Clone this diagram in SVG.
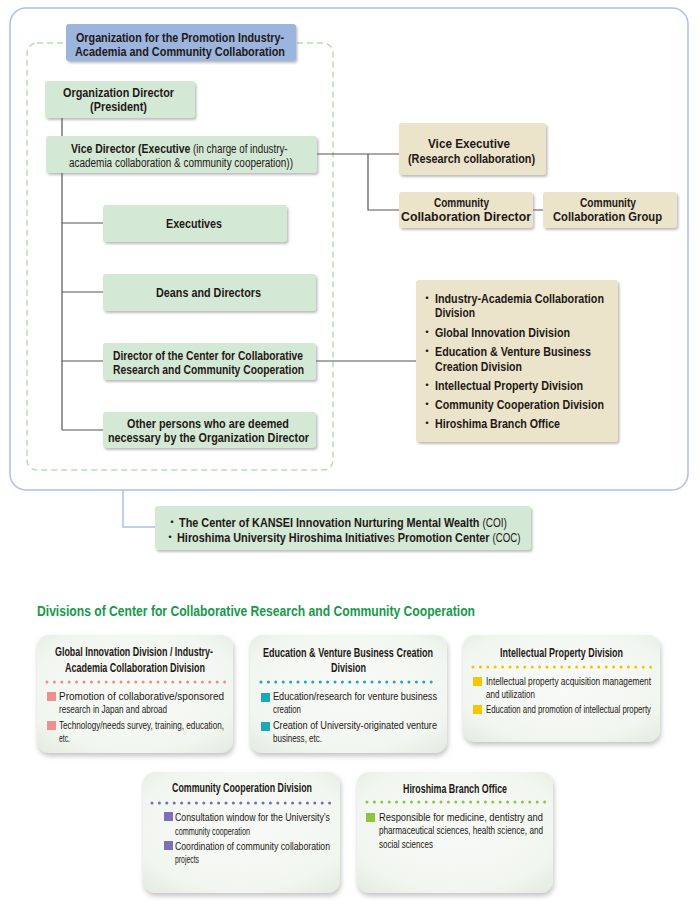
<svg xmlns="http://www.w3.org/2000/svg" width="700" height="906" viewBox="0 0 700 906">
<defs>
<style>
.t{font-family:"Liberation Sans Narrow","Liberation Sans","Noto Sans CJK JP",sans-serif;fill:#231815}
.bu{font-family:"Noto Sans CJK JP","Liberation Sans",sans-serif;fill:#231815;font-size:12px}
.h{font-size:13.5px;font-weight:bold}
.h2{font-size:12.8px;font-weight:bold}
.s{font-size:12px}
.ct{font-size:12px;font-weight:bold}
.ci{font-size:11px}
.ci3{font-size:10px}
.green{fill:#d3e8d5;filter:url(#sh)}
.beige{fill:#ebe3ca;filter:url(#sh)}
.blue{fill:#9bb5de;filter:url(#sh)}
.card{fill:url(#cg);filter:url(#sh2)}
.ln{stroke:#555;stroke-width:1.2;fill:none}
.dot{stroke-width:3;stroke-linecap:round;stroke-dasharray:0 7.4;fill:none}
</style>
<filter id="sh" x="-10%" y="-20%" width="125%" height="150%">
<feDropShadow dx="1.5" dy="2" stdDeviation="1.2" flood-color="#6f6f6f" flood-opacity="0.45"/>
</filter>
<filter id="sh2" x="-10%" y="-10%" width="125%" height="130%">
<feDropShadow dx="1" dy="3" stdDeviation="2.5" flood-color="#7a7a7a" flood-opacity="0.45"/>
</filter>
<radialGradient id="cg" cx="0.5" cy="0.45" r="0.75">
<stop offset="0" stop-color="#f8faf7"/>
<stop offset="0.7" stop-color="#f2f6f0"/>
<stop offset="1" stop-color="#e2eadf"/>
</radialGradient>
</defs>

<!-- outer frame -->
<rect x="10" y="8" width="678" height="482" rx="16" fill="#fff" stroke="#a9c1e8" stroke-width="1.5"/>
<rect x="27" y="43" width="306" height="427" rx="10" fill="none" stroke="#b7dcba" stroke-width="1.5" stroke-dasharray="6 4"/>

<g id="connectors">
<path class="ln" d="M62 118 V430 M62 223 H103 M62 292 H103 M62 361 H103 M62 430 H103"/>
<path class="ln" d="M317 154 H399 M368 154 V210 H399 M533 210 H543"/>
<path class="ln" d="M316 361 H416"/>
<path d="M123 490 V527 H155" fill="none" stroke="#a9c1e8" stroke-width="1.5"/>
</g>

<g id="org-header">
<rect class="blue" x="66" y="24" width="230" height="37" rx="3"/>
<text class="t h2" x="76" y="41.5" textLength="208" lengthAdjust="spacingAndGlyphs">Organization for the Promotion Industry-</text>
<text class="t h2" x="75" y="55.5" textLength="210" lengthAdjust="spacingAndGlyphs">Academia and Community Collaboration</text>
</g>

<g id="org-director">
<rect class="green" x="45" y="81" width="150" height="37" rx="3"/>
<text class="t h" x="63" y="97" textLength="111" lengthAdjust="spacingAndGlyphs">Organization Director</text>
<text class="t h" x="90" y="111" textLength="57" lengthAdjust="spacingAndGlyphs">(President)</text>
</g>

<g id="vice-director">
<rect class="green" x="46" y="136" width="271" height="37" rx="3"/>
<text class="t" transform="translate(71 152.5) scale(0.816 1)" x="0" y="0"><tspan class="h2">Vice Director (Executive</tspan><tspan class="s"> (in charge of industry-</tspan></text>
<text class="t s" x="69" y="166.5" textLength="224" lengthAdjust="spacingAndGlyphs">academia collaboration &amp; community cooperation))</text>
</g>

<g id="executives">
<rect class="green" x="103" y="205" width="184" height="37" rx="3"/>
<text class="t h" x="166" y="228" textLength="56" lengthAdjust="spacingAndGlyphs">Executives</text>
</g>

<g id="deans">
<rect class="green" x="103" y="274" width="213" height="37" rx="3"/>
<text class="t h" x="156" y="297" textLength="105" lengthAdjust="spacingAndGlyphs">Deans and Directors</text>
</g>

<g id="center-director">
<rect class="green" x="103" y="343" width="213" height="37" rx="3"/>
<text class="t h2" x="113" y="359.5" textLength="190" lengthAdjust="spacingAndGlyphs">Director of the Center for Collaborative</text>
<text class="t h2" x="113" y="373.5" textLength="191" lengthAdjust="spacingAndGlyphs">Research and Community Cooperation</text>
</g>

<g id="other-persons">
<rect class="green" x="103" y="412" width="213" height="36" rx="3"/>
<text class="t h2" x="127" y="428" textLength="162" lengthAdjust="spacingAndGlyphs">Other persons who are deemed</text>
<text class="t h2" x="108" y="442" textLength="201" lengthAdjust="spacingAndGlyphs">necessary by the Organization Director</text>
</g>

<g id="vice-executive">
<rect class="beige" x="399" y="123" width="147" height="52" rx="3"/>
<text class="t h" x="428" y="148" textLength="82" lengthAdjust="spacingAndGlyphs">Vice Executive</text>
<text class="t h" x="408" y="163" textLength="127" lengthAdjust="spacingAndGlyphs">(Research collaboration)</text>
</g>

<g id="community-collab-director">
<rect class="beige" x="399" y="192" width="134" height="36" rx="3"/>
<text class="t h" x="434" y="207" textLength="55" lengthAdjust="spacingAndGlyphs">Community</text>
<text class="t h" x="401" y="221" textLength="130" lengthAdjust="spacingAndGlyphs">Collaboration Director</text>
</g>

<g id="community-collab-group">
<rect class="beige" x="543" y="192" width="134" height="36" rx="3"/>
<text class="t h" x="580" y="207" textLength="56" lengthAdjust="spacingAndGlyphs">Community</text>
<text class="t h" x="553" y="221" textLength="109" lengthAdjust="spacingAndGlyphs">Collaboration Group</text>
</g>

<g id="divisions-list">
<rect class="beige" x="416" y="280" width="202" height="162" rx="3"/>
<text class="bu" x="421" y="303">・</text>
<text class="t h" x="435" y="303" textLength="169" lengthAdjust="spacingAndGlyphs">Industry-Academia Collaboration</text>
<text class="t h" x="435" y="317" textLength="40" lengthAdjust="spacingAndGlyphs">Division</text>
<text class="bu" x="421" y="337">・</text>
<text class="t h" x="435" y="337" textLength="135" lengthAdjust="spacingAndGlyphs">Global Innovation Division</text>
<text class="bu" x="421" y="356">・</text>
<text class="t h" x="435" y="356" textLength="156" lengthAdjust="spacingAndGlyphs">Education &amp; Venture Business</text>
<text class="t h" x="435" y="371" textLength="87" lengthAdjust="spacingAndGlyphs">Creation Division</text>
<text class="bu" x="421" y="390">・</text>
<text class="t h" x="435" y="390" textLength="148" lengthAdjust="spacingAndGlyphs">Intellectual Property Division</text>
<text class="bu" x="421" y="409">・</text>
<text class="t h" x="435" y="409" textLength="169" lengthAdjust="spacingAndGlyphs">Community Cooperation Division</text>
<text class="bu" x="421" y="428">・</text>
<text class="t h" x="435" y="428" textLength="125" lengthAdjust="spacingAndGlyphs">Hiroshima Branch Office</text>
</g>

<g id="coi-coc">
<rect class="green" x="155" y="506" width="376" height="44" rx="3"/>
<text class="bu" x="166" y="527">・</text>
<text class="t" transform="translate(179 527) scale(0.837 1)" x="0" y="0" style="font-size:13px"><tspan font-weight="bold">The Center of KANSEI Innovation Nurturing Mental Wealth</tspan> <tspan style="font-size:12px">(COI)</tspan></text>
<text class="bu" x="164" y="542">・</text>
<text class="t" transform="translate(177 542) scale(0.807 1)" x="0" y="0" style="font-size:13.5px"><tspan font-weight="bold">Hiroshima University Hiroshima Initiative</tspan>s <tspan font-weight="bold">Promotion Center</tspan> <tspan style="font-size:12px">(COC)</tspan></text>
</g>

<text class="t" x="37" y="616" textLength="438" lengthAdjust="spacingAndGlyphs" style="font-size:15.5px;font-weight:bold;fill:#16994a">Divisions of Center for Collaborative Research and Community Cooperation</text>

<g id="card-global-innovation">
<rect class="card" x="37" y="635" width="196" height="118" rx="12"/>
<text class="t ct" x="55" y="656" textLength="158" lengthAdjust="spacingAndGlyphs">Global Innovation Division / Industry-</text>
<text class="t ct" x="65" y="672" textLength="140" lengthAdjust="spacingAndGlyphs">Academia Collaboration Division</text>
<line class="dot" x1="47" y1="682" x2="226" y2="682" stroke="#f08c8c"/>
<rect x="47" y="692" width="9" height="9" fill="#f08f8f"/>
<text class="t ci" x="59" y="700" textLength="165" lengthAdjust="spacingAndGlyphs">Promotion of collaborative/sponsored</text>
<text class="t ci" x="59" y="713" textLength="108" lengthAdjust="spacingAndGlyphs">research in Japan and abroad</text>
<rect x="47" y="721" width="9" height="9" fill="#f08f8f"/>
<text class="t ci" x="59" y="729" textLength="165" lengthAdjust="spacingAndGlyphs">Technology/needs survey, training, education,</text>
<text class="t ci" x="59" y="742" textLength="11" lengthAdjust="spacingAndGlyphs">etc.</text>
</g>

<g id="card-education-venture">
<rect class="card" x="250" y="635" width="197" height="118" rx="12"/>
<text class="t ct" x="263" y="657" textLength="170" lengthAdjust="spacingAndGlyphs">Education &amp; Venture Business Creation</text>
<text class="t ct" x="331" y="672" textLength="35" lengthAdjust="spacingAndGlyphs">Division</text>
<line class="dot" x1="261" y1="682" x2="437" y2="682" stroke="#19a9ba"/>
<rect x="261" y="693" width="9" height="9" fill="#19a9ba"/>
<text class="t ci" x="273" y="700" textLength="164" lengthAdjust="spacingAndGlyphs">Education/research for venture business</text>
<text class="t ci" x="273" y="713" textLength="28" lengthAdjust="spacingAndGlyphs">creation</text>
<rect x="261" y="722" width="9" height="9" fill="#19a9ba"/>
<text class="t ci" x="273" y="729" textLength="164" lengthAdjust="spacingAndGlyphs">Creation of University-originated venture</text>
<text class="t ci" x="273" y="742" textLength="49" lengthAdjust="spacingAndGlyphs">business, etc.</text>
</g>

<g id="card-intellectual-property">
<rect class="card" x="463" y="635" width="197" height="107" rx="12"/>
<text class="t ct" x="500" y="657" textLength="123" lengthAdjust="spacingAndGlyphs">Intellectual Property Division</text>
<line class="dot" x1="473" y1="667" x2="651" y2="667" stroke="#f5c300"/>
<rect x="473" y="677" width="9" height="9" fill="#f7c600"/>
<text class="t ci3" x="486" y="685" textLength="165" lengthAdjust="spacingAndGlyphs">Intellectual property acquisition management</text>
<text class="t ci3" x="486" y="698" textLength="49" lengthAdjust="spacingAndGlyphs">and utilization</text>
<rect x="473" y="705" width="9" height="9" fill="#f7c600"/>
<text class="t ci3" x="486" y="713" textLength="165" lengthAdjust="spacingAndGlyphs">Education and promotion of intellectual property</text>
</g>

<g id="card-community-cooperation">
<rect class="card" x="143" y="772" width="197" height="121" rx="12"/>
<text class="t ct" x="172" y="792" textLength="140" lengthAdjust="spacingAndGlyphs">Community Cooperation Division</text>
<line class="dot" x1="152" y1="803" x2="332" y2="803" stroke="#7a6cb6"/>
<rect x="164" y="812" width="9" height="9" fill="#7d6fb8"/>
<text class="t ci" x="175" y="821" textLength="155" lengthAdjust="spacingAndGlyphs">Consultation window for the University’s</text>
<text class="t ci" x="175" y="835" textLength="75" lengthAdjust="spacingAndGlyphs">community cooperation</text>
<rect x="164" y="841" width="9" height="9" fill="#7d6fb8"/>
<text class="t ci" x="175" y="850" textLength="155" lengthAdjust="spacingAndGlyphs">Coordination of community collaboration</text>
<text class="t ci" x="175" y="863" textLength="24" lengthAdjust="spacingAndGlyphs">projects</text>
</g>

<g id="card-hiroshima-branch">
<rect class="card" x="357" y="772" width="196" height="121" rx="12"/>
<text class="t ct" x="403" y="793" textLength="104" lengthAdjust="spacingAndGlyphs">Hiroshima Branch Office</text>
<line class="dot" x1="367" y1="802" x2="545" y2="802" stroke="#8cc63e"/>
<rect x="366" y="813" width="9" height="9" fill="#8cc63e"/>
<text class="t ci" x="379" y="821" textLength="164" lengthAdjust="spacingAndGlyphs">Responsible for medicine, dentistry and</text>
<text class="t ci" x="379" y="834" textLength="164" lengthAdjust="spacingAndGlyphs">pharmaceutical sciences, health science, and</text>
<text class="t ci" x="379" y="848" textLength="54" lengthAdjust="spacingAndGlyphs">social sciences</text>
</g>
</svg>
